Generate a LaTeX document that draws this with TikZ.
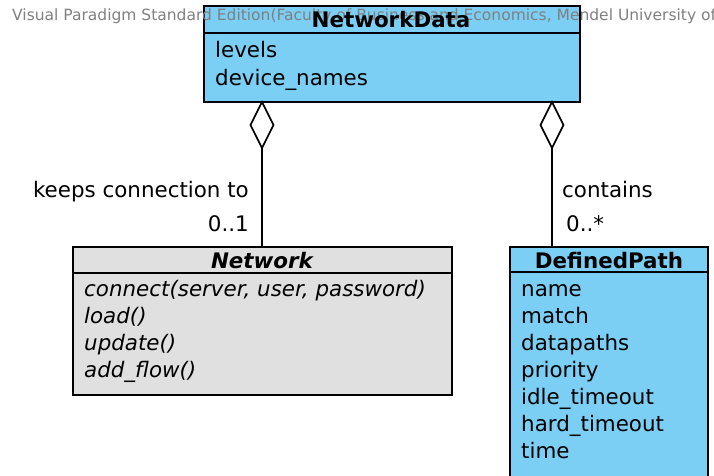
\documentclass[tikz,border=0pt]{standalone}
\usepackage{fontspec}
\setmainfont{DejaVu Sans}
\definecolor{classblue}{HTML}{7BCEF4}
\definecolor{classgray}{HTML}{E0E0E0}
\definecolor{wmgray}{HTML}{808080}
\begin{document}
\begin{tikzpicture}[x=1pt,y=-1pt,
  box/.style={draw=black,line width=1.6pt},
  sep/.style={draw=black,line width=1.4pt},
  txt/.style={inner sep=0pt,font=\fontsize{21.4}{25}\selectfont},
  attr/.style={txt,anchor=base west},
  head/.style={txt,anchor=base,font=\fontsize{21.4}{25}\selectfont\bfseries},
  meth/.style={attr,font=\fontsize{21.4}{25}\selectfont\itshape},
  link/.style={draw=black,line width=1.6pt},
  agg/.style={draw=black,fill=white,line width=1.6pt}]
\useasboundingbox (0,0) rectangle (714,476);

% NetworkData class
\path[box,fill=classblue] (204,6) rectangle (580,102);
\draw[sep] (204,33) -- (580,33);
\node[anchor=base west,inner sep=0pt,text=wmgray,font=\fontsize{15.5}{17}\selectfont] (wm) at (12,21) {Visual Paradigm Standard Edition(Faculty of Business and Economics, Mendel University of};
\node[head] (ndt) at (391,28) {NetworkData};
\node[attr] (nd1) at (215,58) {levels};
\node[attr] (nd2) at (215,86) {device\_names};
\coordinate (ndL) at (262,102);
\coordinate (ndR) at (552,102);

% Network class
\path[box,fill=classgray] (73,247) rectangle (452,395);
\draw[sep] (73,273) -- (452,273);
\node[head,font=\fontsize{21.4}{25}\selectfont\bfseries\itshape] (nwt) at (262,268) {Network};
\node[meth] (m1) at (84,296) {connect(server, user, password)};
\node[meth] (m2) at (84,323) {load()};
\node[meth] (m3) at (84,350) {update()};
\node[meth] (m4) at (84,377) {add\_flow()};
\coordinate (nwT) at (262,247);

% DefinedPath class (runs past the lower edge)
\fill[classblue] (510,247) rectangle (708,480);
\draw[box] (510,480) -- (510,247) -- (708,247) -- (708,480);
\draw[sep] (510,272) -- (708,272);
\node[head] (dpt) at (609,268) {DefinedPath};
\node[attr] (d1) at (521,296) {name};
\node[attr] (d2) at (521,323) {match};
\node[attr] (d3) at (521,350) {datapaths};
\node[attr] (d4) at (521,377) {priority};
\node[attr] (d5) at (521,404) {idle\_timeout};
\node[attr] (d6) at (521,431) {hard\_timeout};
\node[attr] (d7) at (521,458) {time};
\coordinate (dpT) at (552,247);

% aggregations
\draw[link] (ndL) ++(0,46) coordinate (dL) -- (nwT);
\draw[agg] (ndL) -- ++(11.5,23) -- (dL) -- ++(-11.5,-23) -- cycle;
\draw[link] (ndR) ++(0,46) coordinate (dR) -- (dpT);
\draw[agg] (ndR) -- ++(11.5,23) -- (dR) -- ++(-11.5,-23) -- cycle;

% association labels
\node[txt,anchor=base east] (l1) at (249,197) {keeps connection to};
\node[txt,anchor=base east] (l2) at (249,231) {0..1};
\node[txt,anchor=base west] (l3) at (562,197) {contains};
\node[txt,anchor=base west] (l4) at (566,231) {0..*};
\end{tikzpicture}
\end{document}
